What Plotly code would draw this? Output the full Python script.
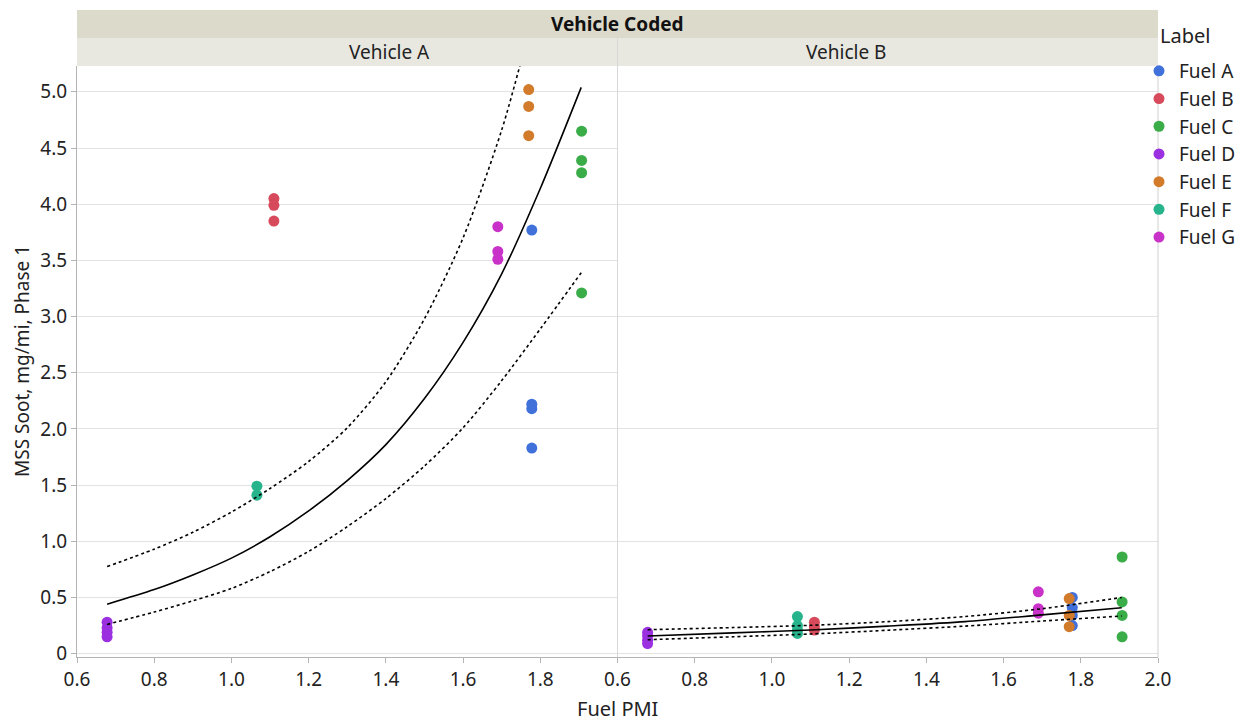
import plotly.graph_objects as go
from plotly.subplots import make_subplots

# ---------------- data ----------------
fuels = ["Fuel A", "Fuel B", "Fuel C", "Fuel D", "Fuel E", "Fuel F", "Fuel G"]
fuel_pmi = {"Fuel A": 1.778, "Fuel B": 1.11, "Fuel C": 1.907, "Fuel D": 0.678,
            "Fuel E": 1.770, "Fuel F": 1.066, "Fuel G": 1.690}
colors = ["#4070DA", "#D64A5B", "#3AAC48", "#9B30E0", "#D27B2B", "#27B48D", "#C932C9"]

soot_vehicle_a = {
    "Fuel A": [3.77, 2.22, 2.18, 1.83],
    "Fuel B": [4.05, 3.99, 3.85],
    "Fuel C": [4.65, 4.39, 4.28, 3.21],
    "Fuel D": [0.28, 0.23, 0.19, 0.15],
    "Fuel E": [5.02, 4.87, 4.61],
    "Fuel F": [1.49, 1.41],
    "Fuel G": [3.80, 3.58, 3.51],
}
soot_vehicle_b = {
    "Fuel A": [0.50, 0.41, 0.34, 0.25],
    "Fuel B": [0.28, 0.24, 0.21],
    "Fuel C": [0.86, 0.46, 0.34, 0.15],
    "Fuel D": [0.19, 0.16, 0.12, 0.09],
    "Fuel E": [0.49, 0.34, 0.24],
    "Fuel F": [0.33, 0.25, 0.21, 0.18],
    "Fuel G": [0.55, 0.40, 0.36],
}

# fit curves
fit_a_x = [0.678, 0.8, 0.9, 1.0, 1.1, 1.2, 1.3, 1.4, 1.5, 1.6, 1.7, 1.8, 1.906]
fit_a_y = [0.44, 0.57, 0.70, 0.85, 1.04, 1.27, 1.54, 1.86, 2.27, 2.77, 3.38, 4.14, 5.04]
upper_a_x = [0.678, 0.8, 0.9, 1.0, 1.1, 1.2, 1.3, 1.4, 1.5, 1.6, 1.7, 1.76]
upper_a_y = [0.775, 0.93, 1.08, 1.26, 1.47, 1.71, 2.01, 2.42, 2.98, 3.70, 4.66, 5.40]
lower_a_x = [0.678, 0.8, 0.9, 1.0, 1.1, 1.2, 1.3, 1.4, 1.5, 1.6, 1.7, 1.8, 1.906]
lower_a_y = [0.26, 0.37, 0.47, 0.58, 0.73, 0.91, 1.13, 1.38, 1.67, 2.01, 2.43, 2.89, 3.39]

fit_b_x = [0.678, 0.9, 1.1, 1.3, 1.5, 1.7, 1.906]
fit_b_y = [0.157, 0.185, 0.21, 0.245, 0.285, 0.345, 0.408]
upper_b_y = [0.213, 0.232, 0.252, 0.285, 0.33, 0.40, 0.50]
lower_b_y = [0.124, 0.15, 0.175, 0.208, 0.245, 0.29, 0.335]

x_ticks_a = [0.6, 0.8, 1.0, 1.2, 1.4, 1.6, 1.8]
x_ticks_b = [0.6, 0.8, 1.0, 1.2, 1.4, 1.6, 1.8, 2.0]
y_ticks = [0, 0.5, 1.0, 1.5, 2.0, 2.5, 3.0, 3.5, 4.0, 4.5, 5.0]
y_tick_text = ["0", "0.5", "1.0", "1.5", "2.0", "2.5", "3.0", "3.5", "4.0", "4.5", "5.0"]

# ---------------- figure ----------------
W, H = 1238, 721
ML, MR, MT, MB = 77, 80, 66, 64
FONT = "Segoe UI, Noto Sans, Open Sans, sans-serif"
TXT = "#222"

fig = make_subplots(rows=1, cols=2, shared_yaxes=True, horizontal_spacing=0)

for i, f in enumerate(fuels):
    for col, data in ((1, soot_vehicle_a), (2, soot_vehicle_b)):
        ys = data[f]
        fig.add_trace(go.Scatter(
            x=[fuel_pmi[f]] * len(ys), y=ys, mode="markers", name=f,
            legendgroup=f, showlegend=(col == 1),
            marker=dict(color=colors[i], size=11, line=dict(width=0)),
        ), row=1, col=col)

line_solid = dict(color="black", width=1.6, shape="spline", smoothing=0.8)
line_dot = dict(color="black", width=1.6, dash="dot", shape="spline", smoothing=0.8)
fig.add_trace(go.Scatter(x=fit_a_x, y=fit_a_y, mode="lines", line=line_solid, showlegend=False), 1, 1)
fig.add_trace(go.Scatter(x=upper_a_x, y=upper_a_y, mode="lines", line=line_dot, showlegend=False), 1, 1)
fig.add_trace(go.Scatter(x=lower_a_x, y=lower_a_y, mode="lines", line=line_dot, showlegend=False), 1, 1)
fig.add_trace(go.Scatter(x=fit_b_x, y=fit_b_y, mode="lines", line=line_solid, showlegend=False), 1, 2)
fig.add_trace(go.Scatter(x=fit_b_x, y=upper_b_y, mode="lines", line=line_dot, showlegend=False), 1, 2)
fig.add_trace(go.Scatter(x=fit_b_x, y=lower_b_y, mode="lines", line=line_dot, showlegend=False), 1, 2)

axis_common = dict(range=[0.6, 2.0], showgrid=False, zeroline=False,
                   showline=True, linecolor="#B4B4B4", linewidth=1,
                   ticks="outside", ticklen=5, tickcolor="#B4B4B4",
                   tickfont=dict(family=FONT, size=19, color=TXT))
fig.update_xaxes(**axis_common, tickvals=x_ticks_a, ticktext=[f"{v:.1f}" for v in x_ticks_a], row=1, col=1)
fig.update_xaxes(**axis_common, tickvals=x_ticks_b, ticktext=[f"{v:.1f}" for v in x_ticks_b], row=1, col=2)
fig.update_yaxes(range=[-0.03, 5.23], tickvals=y_ticks, ticktext=y_tick_text,
                 showgrid=True, gridcolor="#E3E3E3", gridwidth=1, zeroline=False,
                 showline=True, linecolor="#B4B4B4", ticks="outside", ticklen=5,
                 tickcolor="#B4B4B4", tickfont=dict(family=FONT, size=19, color=TXT),
                 row=1, col=1)
fig.update_yaxes(range=[-0.03, 5.23], showgrid=True, gridcolor="#E3E3E3", zeroline=False,
                 showline=False, row=1, col=2)

ph = H - MT - MB
pw = W - ML - MR
def py(pix):
    return (H - MB - pix) / ph
def px(pix):
    return (pix - ML) / pw

shapes = [
    dict(type="rect", xref="paper", yref="paper", x0=0, x1=1, y0=py(38), y1=py(10),
         fillcolor="#DCDACB", line=dict(width=0), layer="below"),
    dict(type="rect", xref="paper", yref="paper", x0=0, x1=1, y0=py(66), y1=py(38),
         fillcolor="#E8E8E1", line=dict(width=0), layer="below"),
    dict(type="line", xref="paper", yref="paper", x0=0.5, x1=0.5, y0=0, y1=py(38),
         line=dict(color="#D8D8D8", width=1)),
    dict(type="line", xref="paper", yref="paper", x0=1, x1=1, y0=0, y1=py(66),
         line=dict(color="#D0D0D0", width=1)),
]
annotations = [
    dict(text="<b>Vehicle Coded</b>", xref="paper", yref="paper", x=0.5, y=py(24),
         showarrow=False, font=dict(family=FONT, size=19, color="#111"), yanchor="middle"),
    dict(text="Vehicle A", xref="paper", yref="paper", x=0.25, y=py(52),
         showarrow=False, font=dict(family=FONT, size=19, color=TXT), yanchor="middle"),
    dict(text="Vehicle B", xref="paper", yref="paper", x=0.75, y=py(52),
         showarrow=False, font=dict(family=FONT, size=19, color=TXT), yanchor="middle"),
    dict(text="Fuel PMI", xref="paper", yref="paper", x=0.5, y=py(708),
         showarrow=False, font=dict(family=FONT, size=20, color=TXT), yanchor="middle"),
    dict(text="MSS Soot, mg/mi, Phase 1", xref="paper", yref="paper",
         x=px(22), y=py(361), textangle=-90, xanchor="center",
         showarrow=False, font=dict(family=FONT, size=19, color=TXT), yanchor="middle"),
    dict(text="Label", xref="paper", yref="paper", x=px(1158), y=py(35),
         xanchor="left", yanchor="middle", showarrow=False,
         font=dict(family=FONT, size=20, color=TXT)),
]

fig.update_layout(
    width=W, height=H, margin=dict(l=ML, r=MR, t=MT, b=MB, autoexpand=False),
    plot_bgcolor="white", paper_bgcolor="white",
    shapes=shapes, annotations=annotations,
    legend=dict(x=px(1139), xanchor="left", y=py(52), yanchor="top",
                font=dict(family=FONT, size=19, color=TXT),
                tracegroupgap=0, itemwidth=30, bgcolor="rgba(0,0,0,0)"),
)

fig.write_html("out.html", config={"displayModeBar": False},
               post_script="document.body.style.margin='0px';document.body.style.padding='0px';")
